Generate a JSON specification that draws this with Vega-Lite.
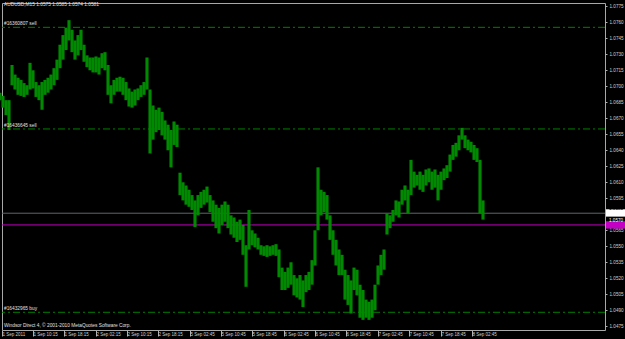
{
  "$schema": "https://vega.github.io/schema/vega-lite/v6.json",
  "width": 603,
  "height": 327,
  "autosize": {"type": "none"},
  "padding": {"left": 2, "top": 3, "right": 20, "bottom": 9},
  "background": "#000000",
  "config": {
    "view": {"stroke": "#a8a8a8", "strokeWidth": 1, "fill": "#000000"},
    "font": "Liberation Sans",
    "axis": {"title": null, "grid": false, "domain": false, "labelColor": "#d0d0d0", "tickColor": "#b0b0b0", "labelOverlap": false, "labelFlush": false, "labelBound": false},
    "axisY": {"labelFontSize": 4.6, "tickSize": 2, "labelPadding": 2, "tickCount": 40},
    "axisX": {"labelFontSize": 4.5, "tickSize": 6, "labelPadding": -5, "labelAlign": "left", "labelBaseline": "top", "labelDx": 2.5, "tickCount": 40}
  },
  "datasets": {
    "bars": [
      {"t":0,"p":1.0694,"p2":1.0687},{"t":3,"p":1.0691,"p2":1.0680},{"t":6,"p":1.0687,"p2":1.0673},{"t":9,"p":1.0687,"p2":1.0659},
      {"t":12,"p":1.0720,"p2":1.0701},{"t":15,"p":1.0711,"p2":1.0697},{"t":18,"p":1.0708,"p2":1.0692},{"t":21,"p":1.0706,"p2":1.0691},
      {"t":24,"p":1.0703,"p2":1.0690},{"t":27,"p":1.0701,"p2":1.0692},{"t":30,"p":1.0722,"p2":1.0697},{"t":33,"p":1.0715,"p2":1.0698},
      {"t":36,"p":1.0704,"p2":1.0690},{"t":39,"p":1.0701,"p2":1.0687},{"t":42,"p":1.0704,"p2":1.0678},{"t":45,"p":1.0706,"p2":1.0692},
      {"t":48,"p":1.0708,"p2":1.0694},{"t":51,"p":1.0711,"p2":1.0697},{"t":54,"p":1.0717,"p2":1.0701},{"t":57,"p":1.0725,"p2":1.0706},
      {"t":60,"p":1.0739,"p2":1.0717},{"t":63,"p":1.0748,"p2":1.0725},{"t":66,"p":1.0755,"p2":1.0734},{"t":69,"p":1.0762,"p2":1.0743},
      {"t":72,"p":1.0753,"p2":1.0732},{"t":75,"p":1.0743,"p2":1.0725},{"t":78,"p":1.0748,"p2":1.0729},{"t":81,"p":1.0753,"p2":1.0734},
      {"t":84,"p":1.0739,"p2":1.0723},{"t":87,"p":1.0729,"p2":1.0718},{"t":90,"p":1.0727,"p2":1.0715},{"t":93,"p":1.0727,"p2":1.0713},
      {"t":96,"p":1.0728,"p2":1.0713},{"t":99,"p":1.0727,"p2":1.0711},{"t":102,"p":1.0731,"p2":1.0717},{"t":105,"p":1.0732,"p2":1.0715},
      {"t":108,"p":1.0720,"p2":1.0692},{"t":111,"p":1.0701,"p2":1.0684},{"t":114,"p":1.0706,"p2":1.0692},{"t":117,"p":1.0708,"p2":1.0695},
      {"t":120,"p":1.0709,"p2":1.0695},{"t":123,"p":1.0708,"p2":1.0692},{"t":126,"p":1.0704,"p2":1.0687},{"t":129,"p":1.0698,"p2":1.0681},
      {"t":132,"p":1.0695,"p2":1.0680},{"t":135,"p":1.0697,"p2":1.0682},{"t":138,"p":1.0698,"p2":1.0687},{"t":141,"p":1.0701,"p2":1.0690},
      {"t":144,"p":1.0704,"p2":1.0692},{"t":147,"p":1.0727,"p2":1.0697},{"t":150,"p":1.0697,"p2":1.0637},{"t":153,"p":1.0682,"p2":1.0650},
      {"t":156,"p":1.0678,"p2":1.0657},{"t":159,"p":1.0680,"p2":1.0659},{"t":162,"p":1.0676,"p2":1.0654},{"t":165,"p":1.0668,"p2":1.0650},
      {"t":168,"p":1.0664,"p2":1.0640},{"t":171,"p":1.0659,"p2":1.0624},{"t":174,"p":1.0667,"p2":1.0645},{"t":177,"p":1.0664,"p2":1.0643},
      {"t":180,"p":1.0619,"p2":1.0598},{"t":183,"p":1.0610,"p2":1.0593},{"t":186,"p":1.0607,"p2":1.0589},{"t":189,"p":1.0603,"p2":1.0587},
      {"t":192,"p":1.0598,"p2":1.0584},{"t":195,"p":1.0593,"p2":1.0568},{"t":198,"p":1.0598,"p2":1.0579},{"t":201,"p":1.0601,"p2":1.0586},
      {"t":204,"p":1.0603,"p2":1.0589},{"t":207,"p":1.0606,"p2":1.0591},{"t":210,"p":1.0598,"p2":1.0582},{"t":213,"p":1.0593,"p2":1.0573},
      {"t":216,"p":1.0589,"p2":1.0567},{"t":219,"p":1.0586,"p2":1.0562},{"t":222,"p":1.0589,"p2":1.0570},{"t":225,"p":1.0592,"p2":1.0573},
      {"t":228,"p":1.0589,"p2":1.0567},{"t":231,"p":1.0579,"p2":1.0561},{"t":234,"p":1.0577,"p2":1.0558},{"t":237,"p":1.0573,"p2":1.0554},
      {"t":240,"p":1.0575,"p2":1.0556},{"t":243,"p":1.0570,"p2":1.0542},{"t":246,"p":1.0551,"p2":1.0512},{"t":249,"p":1.0584,"p2":1.0547},
      {"t":252,"p":1.0565,"p2":1.0551},{"t":255,"p":1.0562,"p2":1.0549},{"t":258,"p":1.0558,"p2":1.0547},{"t":261,"p":1.0551,"p2":1.0542},
      {"t":264,"p":1.0550,"p2":1.0541},{"t":267,"p":1.0551,"p2":1.0540},{"t":270,"p":1.0550,"p2":1.0541},{"t":273,"p":1.0551,"p2":1.0542},
      {"t":276,"p":1.0552,"p2":1.0541},{"t":279,"p":1.0547,"p2":1.0521},{"t":282,"p":1.0530,"p2":1.0509},{"t":285,"p":1.0526,"p2":1.0509},
      {"t":288,"p":1.0530,"p2":1.0511},{"t":291,"p":1.0535,"p2":1.0514},{"t":294,"p":1.0523,"p2":1.0504},{"t":297,"p":1.0520,"p2":1.0502},
      {"t":300,"p":1.0523,"p2":1.0500},{"t":303,"p":1.0518,"p2":1.0493},{"t":306,"p":1.0523,"p2":1.0507},{"t":309,"p":1.0526,"p2":1.0509},
      {"t":312,"p":1.0537,"p2":1.0514},{"t":315,"p":1.0565,"p2":1.0532},{"t":318,"p":1.0624,"p2":1.0565},{"t":321,"p":1.0603,"p2":1.0579},
      {"t":324,"p":1.0601,"p2":1.0582},{"t":327,"p":1.0598,"p2":1.0575},{"t":330,"p":1.0579,"p2":1.0556},{"t":333,"p":1.0565,"p2":1.0542},
      {"t":336,"p":1.0556,"p2":1.0532},{"t":339,"p":1.0547,"p2":1.0523},{"t":342,"p":1.0542,"p2":1.0523},{"t":345,"p":1.0528,"p2":1.0500},
      {"t":348,"p":1.0523,"p2":1.0495},{"t":351,"p":1.0518,"p2":1.0487},{"t":354,"p":1.0530,"p2":1.0509},{"t":357,"p":1.0528,"p2":1.0504},
      {"t":360,"p":1.0514,"p2":1.0483},{"t":363,"p":1.0509,"p2":1.0481},{"t":366,"p":1.0500,"p2":1.0483},{"t":369,"p":1.0498,"p2":1.0481},
      {"t":372,"p":1.0500,"p2":1.0483},{"t":375,"p":1.0514,"p2":1.0490},{"t":378,"p":1.0532,"p2":1.0514},{"t":381,"p":1.0542,"p2":1.0523},
      {"t":384,"p":1.0547,"p2":1.0528},{"t":387,"p":1.0581,"p2":1.0561},{"t":390,"p":1.0579,"p2":1.0567},{"t":393,"p":1.0584,"p2":1.0573},
      {"t":396,"p":1.0593,"p2":1.0579},{"t":399,"p":1.0592,"p2":1.0577},{"t":402,"p":1.0603,"p2":1.0589},{"t":405,"p":1.0607,"p2":1.0593},
      {"t":408,"p":1.0603,"p2":1.0581},{"t":411,"p":1.0631,"p2":1.0598},{"t":414,"p":1.0620,"p2":1.0605},{"t":417,"p":1.0617,"p2":1.0607},
      {"t":420,"p":1.0620,"p2":1.0603},{"t":423,"p":1.0617,"p2":1.0601},{"t":426,"p":1.0622,"p2":1.0607},{"t":429,"p":1.0623,"p2":1.0610},
      {"t":432,"p":1.0620,"p2":1.0603},{"t":435,"p":1.0622,"p2":1.0605},{"t":438,"p":1.0617,"p2":1.0593},{"t":441,"p":1.0620,"p2":1.0603},
      {"t":444,"p":1.0623,"p2":1.0612},{"t":447,"p":1.0626,"p2":1.0614},{"t":450,"p":1.0636,"p2":1.0620},{"t":453,"p":1.0645,"p2":1.0631},
      {"t":456,"p":1.0647,"p2":1.0634},{"t":459,"p":1.0654,"p2":1.0640},{"t":462,"p":1.0661,"p2":1.0650},{"t":465,"p":1.0654,"p2":1.0642},
      {"t":468,"p":1.0650,"p2":1.0640},{"t":471,"p":1.0648,"p2":1.0638},{"t":474,"p":1.0645,"p2":1.0631},{"t":477,"p":1.0642,"p2":1.0629},
      {"t":480,"p":1.0631,"p2":1.0581},{"t":483,"p":1.0593,"p2":1.0575}
    ],
    "orders": [
      {"p": 1.07553, "label": "#16360807 sell"},
      {"p": 1.06600, "label": "#16436645 sell"},
      {"p": 1.04881, "label": "#16432965 buy"}
    ],
    "bid": [{"p": 1.0581}],
    "ask": [{"p": 1.0570}],
    "texts": [
      {"t": 4, "p": 1.0776, "label": "AUDUSD,M15  1.0575 1.0585 1.0574 1.0581"},
      {"t": 4, "p": 1.04753, "label": "Windsor Direct 4, © 2001-2010 MetaQuotes Software Corp."}
    ],
    "boxes": [
      {"t": 606, "t2": 625, "p": 1.05847, "p2": 1.05778, "label": "1.0581", "kind": "bid"},
      {"t": 606, "t2": 625, "p": 1.05735, "p2": 1.05666, "label": "1.0570", "kind": "ask"}
    ]
  },
  "layer": [
    {
      "data": {"name": "orders"},
      "mark": {"type": "rule", "color": "#008000", "strokeWidth": 1, "strokeDash": [7, 3, 2, 3]},
      "encoding": {
        "y": {"field": "p", "type": "quantitative",
          "scale": {"domain": [1.04715, 1.07781], "nice": false, "zero": false},
          "axis": {"orient": "right", "tickCount": 40,
            "values": [1.0775,1.076,1.0745,1.073,1.0715,1.07,1.0685,1.067,1.0655,1.064,1.0625,1.061,1.0595,1.0565,1.055,1.0535,1.052,1.0505,1.049,1.0475],
            "format": ".4f"}
        }
      }
    },
    {
      "data": {"name": "bid"},
      "mark": {"type": "rule", "color": "#5c6868", "strokeWidth": 1},
      "encoding": {"y": {"field": "p", "type": "quantitative"}}
    },
    {
      "data": {"name": "ask"},
      "mark": {"type": "rule", "color": "#c400c4", "strokeWidth": 1},
      "encoding": {"y": {"field": "p", "type": "quantitative"}}
    },
    {
      "data": {"name": "bars"},
      "mark": {"type": "rule", "color": "#008a00", "strokeWidth": 3.1},
      "encoding": {
        "x": {"field": "t", "type": "quantitative",
          "scale": {"domain": [2, 605], "nice": false, "zero": false},
          "axis": {"tickCount": 40,
            "values": [2,33,64,96,127,158,190,221,252,284,315,346,378,409,441,472],
            "labelExpr": "['1 Sep 2011','1 Sep 10:15','1 Sep 18:15','2 Sep 02:15','2 Sep 10:15','2 Sep 18:15','5 Sep 02:45','5 Sep 10:45','5 Sep 18:45','6 Sep 02:45','6 Sep 10:45','6 Sep 18:45','7 Sep 02:45','7 Sep 10:45','7 Sep 18:45','8 Sep 02:45'][indexof([2,33,64,96,127,158,190,221,252,284,315,346,378,409,441,472], datum.value)]"}
        },
        "y": {"field": "p", "type": "quantitative"},
        "y2": {"field": "p2"}
      }
    },
    {
      "data": {"name": "orders"},
      "mark": {"type": "text", "align": "left", "baseline": "bottom", "dy": -1, "fontSize": 4.8, "color": "#e0e0e0"},
      "encoding": {
        "x": {"datum": 4, "type": "quantitative"},
        "y": {"field": "p", "type": "quantitative"},
        "text": {"field": "label"}
      }
    },
    {
      "data": {"name": "texts"},
      "mark": {"type": "text", "align": "left", "baseline": "middle", "fontSize": 4.8, "color": "#e0e0e0"},
      "encoding": {
        "x": {"field": "t", "type": "quantitative"},
        "y": {"field": "p", "type": "quantitative"},
        "text": {"field": "label"}
      }
    },
    {
      "data": {"name": "boxes"},
      "mark": {"type": "rect"},
      "encoding": {
        "x": {"field": "t", "type": "quantitative"},
        "x2": {"field": "t2"},
        "y": {"field": "p", "type": "quantitative"},
        "y2": {"field": "p2"},
        "color": {"field": "kind", "type": "nominal", "scale": {"domain": ["bid", "ask"], "range": ["#ffffff", "#c400c4"]}, "legend": null}
      }
    },
    {
      "data": {"name": "boxes"},
      "mark": {"type": "text", "align": "left", "baseline": "middle", "fontSize": 4.6, "dx": 3},
      "encoding": {
        "x": {"field": "t", "type": "quantitative"},
        "y": {"field": "p", "type": "quantitative"},
        "y2": {"field": "p2"},
        "text": {"field": "label"},
        "color": {"field": "kind", "type": "nominal", "scale": {"domain": ["bid", "ask"], "range": ["#000000", "#ffffff"]}, "legend": null}
      }
    }
  ],
  "resolve": {"scale": {"color": "independent"}}
}
